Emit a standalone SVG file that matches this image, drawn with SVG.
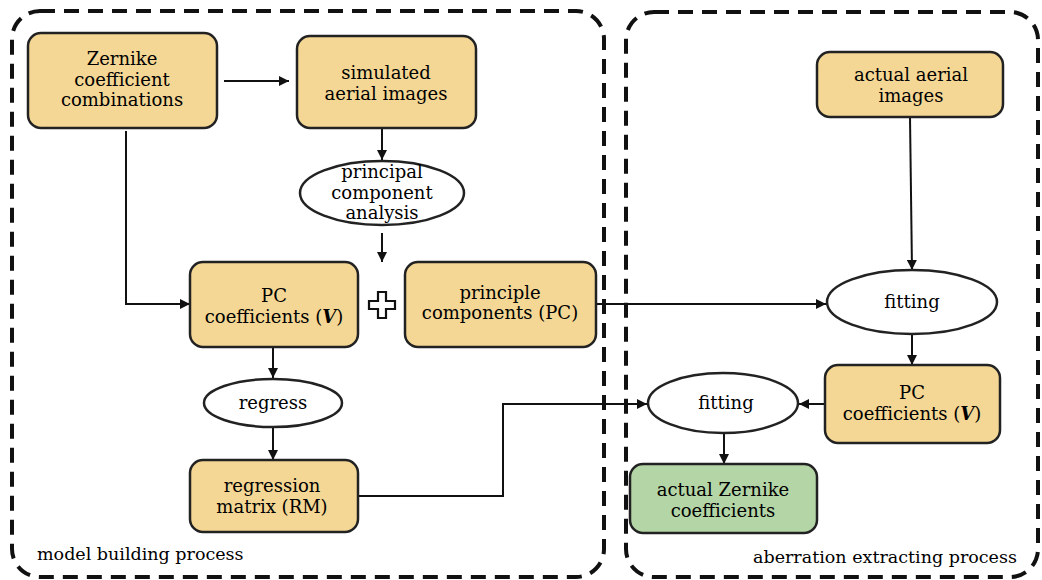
<svg xmlns="http://www.w3.org/2000/svg" width="1042" height="580" viewBox="0 0 1042 580">
<style>
.frame{fill:none;stroke:#111;stroke-width:4;stroke-dasharray:15 9}
.box{fill:#F4D794;stroke:#222;stroke-width:2.5}
.green{fill:#B4D5A6;stroke:#222;stroke-width:2.5}
.ell{fill:#fff;stroke:#222;stroke-width:2.5}
.t{font-family:"DejaVu Serif","Liberation Serif",serif;font-size:18px;fill:#000;text-anchor:middle}
.lab{font-family:"DejaVu Serif","Liberation Serif",serif;font-size:17.5px;fill:#000}
.c{fill:none;stroke:#111;stroke-width:2}
</style>
<defs>
<marker id="ah" viewBox="0 0 10 10" refX="10" refY="5" markerWidth="10" markerHeight="10" markerUnits="userSpaceOnUse" orient="auto">
<path d="M0,0 L10,5 L0,10 z" fill="#111"/>
</marker>
</defs>
<rect width="1042" height="580" fill="#fff"/>
<g id="frames">
<rect class="frame" x="12" y="11" width="592" height="566" rx="28"/>
<rect class="frame" x="626" y="12" width="412" height="565" rx="28"/>
<text class="lab" x="37" y="560">model building process</text>
<text class="lab" x="753" y="563">aberration extracting process</text>
</g>
<g id="connectors">
<line class="c" x1="224" y1="81" x2="289" y2="81" marker-end="url(#ah)"/>
<line class="c" x1="382" y1="128" x2="382" y2="160" marker-end="url(#ah)"/>
<line class="c" x1="382" y1="233" x2="382" y2="262" marker-end="url(#ah)"/>
<polyline class="c" points="126,131 126,304 190,304" marker-end="url(#ah)"/>
<line class="c" x1="273" y1="347" x2="273" y2="378" marker-end="url(#ah)"/>
<line class="c" x1="273" y1="427" x2="273" y2="460" marker-end="url(#ah)"/>
<polyline class="c" points="358,496 503,496 503,404 647,404" marker-end="url(#ah)"/>
<line class="c" x1="596" y1="304" x2="826" y2="304" marker-end="url(#ah)"/>
<line class="c" x1="910" y1="117" x2="912" y2="270" marker-end="url(#ah)"/>
<line class="c" x1="912" y1="334" x2="912" y2="365" marker-end="url(#ah)"/>
<line class="c" x1="825" y1="404" x2="799" y2="404" marker-end="url(#ah)"/>
<line class="c" x1="724" y1="433" x2="724" y2="464" marker-end="url(#ah)"/>
</g>
<g id="plus">
<path d="M378,292 h8 v9 h9 v8 h-9 v9 h-8 v-9 h-9 v-8 h9 z" fill="#fff" stroke="#111" stroke-width="2.2"/>
</g>
<g id="zernike-combos">
<rect class="box" x="28" y="33" width="189" height="95" rx="13"/>
<text class="t" x="122" y="65">Zernike</text>
<text class="t" x="122" y="86">coefficient</text>
<text class="t" x="122" y="106">combinations</text>
</g>
<g id="simulated-images">
<rect class="box" x="297" y="36" width="179" height="92" rx="13"/>
<text class="t" x="386" y="79">simulated</text>
<text class="t" x="386" y="100">aerial images</text>
</g>
<g id="pca">
<ellipse class="ell" cx="382" cy="193" rx="82" ry="32"/>
<text class="t" x="382" y="178">principal</text>
<text class="t" x="382" y="199">component</text>
<text class="t" x="382" y="219">analysis</text>
</g>
<g id="pc-coefficients-left">
<rect class="box" x="190" y="262" width="168" height="85" rx="13"/>
<text class="t" x="274" y="302">PC</text>
<text class="t" x="274" y="323">coefficients (<tspan font-weight="bold" font-style="italic">V</tspan>)</text>
</g>
<g id="principle-components">
<rect class="box" x="405" y="262" width="191" height="85" rx="13"/>
<text class="t" x="500" y="299">principle</text>
<text class="t" x="500" y="319">components (PC)</text>
</g>
<g id="regress">
<ellipse class="ell" cx="273" cy="403" rx="69" ry="24"/>
<text class="t" x="273" y="409">regress</text>
</g>
<g id="regression-matrix">
<rect class="box" x="190" y="460" width="168" height="72" rx="13"/>
<text class="t" x="272" y="492">regression</text>
<text class="t" x="272" y="513">matrix (RM)</text>
</g>
<g id="actual-aerial-images">
<rect class="box" x="817" y="52" width="186" height="65" rx="13"/>
<text class="t" x="911" y="81">actual aerial</text>
<text class="t" x="911" y="102">images</text>
</g>
<g id="fitting-right">
<ellipse class="ell" cx="912" cy="302" rx="85" ry="32"/>
<text class="t" x="912" y="308">fitting</text>
</g>
<g id="pc-coefficients-right">
<rect class="box" x="825" y="365" width="175" height="78" rx="13"/>
<text class="t" x="912" y="399">PC</text>
<text class="t" x="912" y="420">coefficients (<tspan font-weight="bold" font-style="italic">V</tspan>)</text>
</g>
<g id="fitting-left">
<ellipse class="ell" cx="723" cy="403" rx="75" ry="30"/>
<text class="t" x="726" y="409">fitting</text>
</g>
<g id="actual-zernike">
<rect class="green" x="630" y="464" width="187" height="69" rx="13"/>
<text class="t" x="723" y="496">actual Zernike</text>
<text class="t" x="723" y="517">coefficients</text>
</g>
</svg>
